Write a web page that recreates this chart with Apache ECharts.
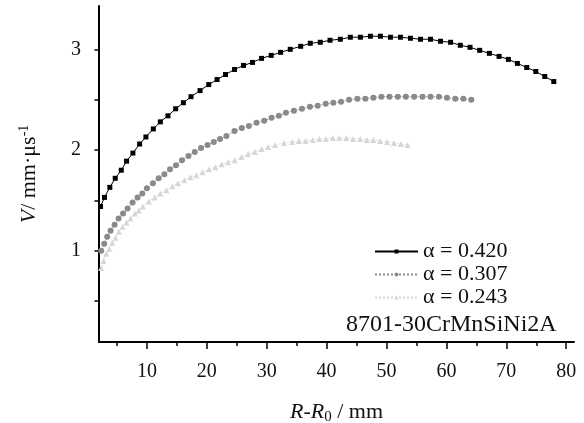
<!DOCTYPE html>
<html>
<head>
<meta charset="utf-8">
<script src="https://cdn.jsdelivr.net/npm/echarts@6/dist/echarts.min.js"></script>
<style>
  html, body { margin: 0; padding: 0; background: #fff; }
  #chart { width: 584px; height: 423px; }
</style>
</head>
<body>
<div id="chart"></div>
<script>
// Detonation velocity V versus distance R-R0 for three alpha values (8701 / 30CrMnSiNi2A)
const r420 = [2.25, 2.92, 3.81, 4.71, 5.72, 6.60, 7.66, 8.78, 9.83, 11.07, 12.24, 13.51, 14.80, 16.09, 17.36,
  18.87, 20.32, 21.71, 23.12, 24.62, 26.13, 27.63, 29.14, 30.75, 32.32, 33.93, 35.67, 37.27, 38.94, 40.57,
  42.29, 43.96, 45.64, 47.31, 48.98, 50.66, 52.33, 54.00, 55.68, 57.35, 59.02, 60.69, 62.32, 63.94, 65.55,
  67.17, 68.79, 70.35, 71.85, 73.41, 74.92, 76.42, 77.93];
const v420 = [1.44, 1.53, 1.63, 1.72, 1.80, 1.89, 1.97, 2.06, 2.13, 2.21, 2.28, 2.34, 2.41, 2.47, 2.53,
  2.59, 2.65, 2.70, 2.75, 2.80, 2.84, 2.87, 2.91, 2.94, 2.97, 3.00, 3.03, 3.06, 3.07, 3.09,
  3.10, 3.12, 3.12, 3.13, 3.13, 3.12, 3.12, 3.11, 3.10, 3.10, 3.08, 3.07, 3.04, 3.02, 2.99,
  2.96, 2.93, 2.90, 2.86, 2.82, 2.78, 2.73, 2.68];

const r307 = [2.37, 2.87, 3.37, 3.93, 4.60, 5.27, 6.02, 6.77, 7.61, 8.44, 9.23, 10.00, 11.00, 11.96, 12.91,
  13.85, 14.85, 15.86, 16.93, 17.98, 19.03, 20.11, 21.16, 22.21, 23.28, 24.62, 25.84, 27.02, 28.30, 29.58,
  30.81, 32.03, 33.21, 34.54, 35.88, 37.22, 38.51, 39.85, 41.12, 42.41, 43.75, 45.13, 46.47, 47.81, 49.15,
  50.49, 51.89, 53.23, 54.62, 56.01, 57.35, 58.75, 60.09, 61.48, 62.82, 64.16];
const v307 = [1.00, 1.07, 1.14, 1.20, 1.26, 1.32, 1.37, 1.42, 1.48, 1.53, 1.57, 1.62, 1.67, 1.72, 1.76,
  1.81, 1.85, 1.90, 1.94, 1.98, 2.02, 2.05, 2.08, 2.11, 2.14, 2.19, 2.22, 2.24, 2.27, 2.29,
  2.32, 2.34, 2.37, 2.39, 2.41, 2.43, 2.44, 2.46, 2.47, 2.48, 2.50, 2.51, 2.51, 2.52, 2.53,
  2.53, 2.53, 2.53, 2.53, 2.53, 2.53, 2.53, 2.52, 2.51, 2.51, 2.50];

const r243 = [2.37, 2.76, 3.21, 3.71, 4.21, 4.76, 5.32, 5.93, 6.60, 7.27, 7.99, 8.66, 9.33, 10.33, 11.29,
  12.24, 13.25, 14.25, 15.19, 16.26, 17.26, 18.27, 19.27, 20.37, 21.44, 22.50, 23.55, 24.67, 25.79, 26.90,
  28.02, 29.14, 30.24, 31.37, 32.87, 34.26, 35.38, 36.50, 37.67, 38.78, 39.90, 41.02, 42.12, 43.29, 44.42,
  45.59, 46.71, 47.81, 48.93, 50.10, 51.23, 52.40, 53.50];
const v243 = [0.83, 0.90, 0.97, 1.02, 1.08, 1.13, 1.19, 1.24, 1.28, 1.32, 1.37, 1.40, 1.44, 1.49, 1.53,
  1.57, 1.60, 1.64, 1.67, 1.70, 1.73, 1.75, 1.78, 1.81, 1.83, 1.86, 1.88, 1.90, 1.93, 1.96,
  1.98, 2.01, 2.03, 2.05, 2.07, 2.08, 2.09, 2.09, 2.10, 2.11, 2.11, 2.12, 2.12, 2.12, 2.11,
  2.11, 2.10, 2.10, 2.09, 2.08, 2.07, 2.06, 2.05];

const seriesNames = ['α = 0.420', 'α = 0.307', 'α = 0.243'];
const xLabelValues = [10, 20, 30, 40, 50, 60, 70, 80];
const xMinorValues = [5, 15, 25, 35, 45, 55, 65, 75];
const yLabelValues = [1, 2, 3];
const yTickValues = [0.5, 1, 1.5, 2, 2.5, 3];
const noteText = '8701-30CrMnSiNi2A';

const FONT = 'Liberation Serif';
const pairs = (xs, ys) => xs.map((x, i) => [x, ys[i]]);

const chart = echarts.init(document.getElementById('chart'), null, { renderer: 'canvas' });

chart.setOption({
  animation: false,
  backgroundColor: '#ffffff',
  textStyle: { fontFamily: FONT, color: '#111' },
  grid: { left: 99, right: 10, top: 6, bottom: 81, containLabel: false, outerBoundsMode: 'none' },
  title: {
    text: noteText,
    left: 346,
    top: 313,
    padding: 0,
    textStyle: { fontFamily: FONT, fontSize: 24, fontWeight: 'normal', color: '#111' }
  },
  legend: {
    left: 374,
    top: 240,
    orient: 'vertical',
    itemWidth: 43,
    itemHeight: 5,
    itemGap: 0,
    padding: 0,
    data: seriesNames,
    textStyle: { fontFamily: FONT, fontSize: 22, color: '#111', lineHeight: 23 }
  },
  xAxis: [{
    type: 'value',
    min: 2,
    max: 81.3,
    position: 'bottom',
    name: '{i|R}-{i|R}{sub|0} / mm',
    nameLocation: 'middle',
    nameGap: 58,
    nameTextStyle: {
      fontFamily: FONT, fontSize: 22, color: '#111',
      rich: {
        i: { fontFamily: FONT, fontSize: 22, fontStyle: 'italic', color: '#111' },
        sub: { fontFamily: FONT, fontSize: 15, color: '#111', verticalAlign: 'bottom', padding: [10, 0, 0, 0] }
      }
    },
    splitLine: { show: false },
    axisLine: { show: true, lineStyle: { color: '#000', width: 2 } },
    axisTick: { show: true, inside: false, length: 7, lineStyle: { color: '#000', width: 1.5 }, customValues: xLabelValues },
    axisLabel: { show: true, margin: 20, fontFamily: FONT, fontSize: 20, color: '#111', customValues: xLabelValues }
  }, {
    type: 'value',
    min: 2,
    max: 81.3,
    position: 'bottom',
    splitLine: { show: false },
    axisLine: { show: false },
    axisTick: { show: true, inside: false, length: 4, lineStyle: { color: '#000', width: 1.5 }, customValues: xMinorValues },
    axisLabel: { show: false }
  }],
  yAxis: {
    type: 'value',
    min: 0.095,
    max: 3.43,
    name: '{i|V}/ mm·μs{sup|-1}',
    nameLocation: 'middle',
    nameGap: 58,
    nameTextStyle: {
      fontFamily: FONT, fontSize: 22, color: '#111',
      rich: {
        i: { fontFamily: FONT, fontSize: 22, fontStyle: 'italic', color: '#111' },
        sup: { fontFamily: FONT, fontSize: 14, color: '#111', verticalAlign: 'top', padding: [0, 0, 10, 0] }
      }
    },
    splitLine: { show: false },
    axisLine: { show: true, lineStyle: { color: '#000', width: 2 } },
    axisTick: { show: true, inside: false, length: 4.5, lineStyle: { color: '#000', width: 1.5 }, customValues: yTickValues },
    axisLabel: { show: true, margin: 18, fontFamily: FONT, fontSize: 20, color: '#111', customValues: yLabelValues }
  },
  series: [{
    name: seriesNames[2],
    type: 'line',
    data: pairs(r243, v243),
    symbol: 'triangle',
    symbolSize: 6,
    showAllSymbol: true,
    itemStyle: { color: '#d6d6d6' },
    lineStyle: { color: '#d6d6d6', width: 1, type: 'dotted' },
    z: 2
  }, {
    name: seriesNames[1],
    type: 'line',
    data: pairs(r307, v307),
    symbol: 'circle',
    symbolSize: 6,
    showAllSymbol: true,
    itemStyle: { color: '#8a8a8a' },
    lineStyle: { color: '#8a8a8a', width: 1, type: 'dotted' },
    z: 3
  }, {
    name: seriesNames[0],
    type: 'line',
    data: pairs(r420, v420),
    symbol: 'rect',
    symbolSize: 5,
    showAllSymbol: true,
    itemStyle: { color: '#000' },
    lineStyle: { color: '#000', width: 1 },
    z: 4
  }]
});
</script>
</body>
</html>
